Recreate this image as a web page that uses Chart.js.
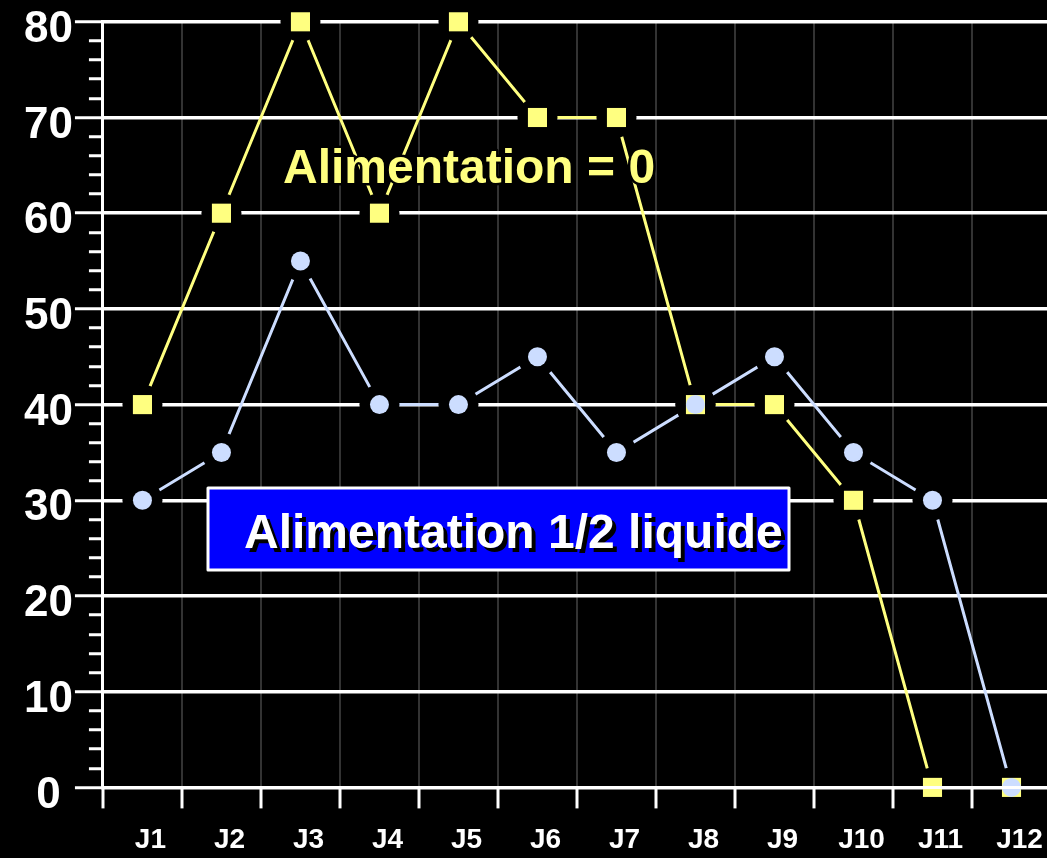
<!DOCTYPE html>
<html>
<head>
<meta charset="utf-8">
<script src="https://cdn.jsdelivr.net/npm/chart.js@4.4.0/dist/chart.umd.min.js"></script>
<style>
    html, body { margin: 0; padding: 0; background: #000; overflow: hidden; }
    canvas { display: block; }
</style>
</head>
<body>
<canvas id="chart" width="1071" height="872"></canvas>
<script>
const days = ["J1", "J2", "J3", "J4", "J5", "J6", "J7", "J8", "J9", "J10", "J11", "J12"]
const fasting = [40, 60, 80, 60, 80, 70, 70, 40, 40, 30, 0, 0]
const halfLiquid = [30, 35, 55, 40, 40, 45, 35, 40, 45, 35, 30, 0]
const yLabels = [0, 10, 20, 30, 40, 50, 60, 70, 80]

const YELLOW = "#FFFF80"
const LILAC = "#CCDDFF"
const FONT = "'Liberation Sans', Arial, sans-serif"

// text boxes drawn over the plot
const notes = {
    id : "notes",
    afterDatasetsDraw(chart) {
        const ctx = chart.ctx
        ctx.save()
        ctx.font = "bold 48px " + FONT
        ctx.textBaseline = "middle"
        ctx.textAlign = "left"

        ctx.lineJoin = "round"
        ctx.lineWidth = 5
        ctx.strokeStyle = "#000"
        ctx.strokeText("Alimentation = 0", 283, 170)
        ctx.fillStyle = YELLOW
        ctx.fillText("Alimentation = 0", 283, 170)

        ctx.fillStyle = "#0000FF"
        ctx.fillRect(208, 488, 581, 82)
        ctx.lineWidth = 3
        ctx.strokeStyle = "#FFF"
        ctx.strokeRect(208, 488, 581, 82)
        ctx.fillStyle = "#000"
        ctx.fillText("Alimentation 1/2 liquide", 248, 539)
        ctx.fillStyle = "#FFF"
        ctx.fillText("Alimentation 1/2 liquide", 244, 535)
        ctx.restore()
    },
}

const haloClip = {left : 5, right : 5, top : 5, bottom : -2}

new Chart(document.getElementById("chart").getContext("2d"), {
    type : "line",
    data : {
        labels : days,
        datasets : [{
            data : fasting,
            borderColor : YELLOW,
            borderWidth : 3,
            pointRadius : 0,
            order : 6,
        }, {
            data : halfLiquid,
            borderColor : LILAC,
            borderWidth : 3,
            pointRadius : 0,
            order : 5,
        }, {
            data : fasting,
            showLine : false,
            pointRadius : 20,
            pointBackgroundColor : "#000",
            pointBorderWidth : 0,
            clip : haloClip,
            order : 4,
        }, {
            data : halfLiquid,
            showLine : false,
            pointRadius : 20,
            pointBackgroundColor : "#000",
            pointBorderWidth : 0,
            clip : haloClip,
            order : 3,
        }, {
            data : fasting,
            showLine : false,
            pointStyle : "rect",
            pointRadius : 13.5,
            pointBackgroundColor : YELLOW,
            pointBorderWidth : 0,
            clip : false,
            order : 2,
        }, {
            data : halfLiquid,
            showLine : false,
            pointStyle : "circle",
            pointRadius : 9.5,
            pointBackgroundColor : LILAC,
            pointBorderWidth : 0,
            clip : false,
            order : 1,
        }],
    },
    options : {
        responsive : false,
        animation : false,
        events : [],
        devicePixelRatio : 1,
        layout : {
            padding : {left : 22, right : 0, top : 0, bottom : 0},
        },
        scales : {
            x : {
                offset : true,
                grid : {
                    offset : true,
                    color : "#333",
                    lineWidth : 2,
                    tickColor : "#FFF",
                    tickWidth : 3,
                    tickLength : 21,
                },
                border : {color : "#FFF", width : 3, z : 1},
                ticks : {
                    color : "#FFF",
                    font : {family : FONT, size : 28, weight : "bold"},
                    padding : 15,
                    labelOffset : 8,
                    maxRotation : 0,
                    autoSkip : false,
                },
            },
            y : {
                min : 0,
                max : 80,
                ticks : {
                    stepSize : 2,
                    autoSkip : false,
                    callback : v => yLabels.includes(v) ? v : "",
                    color : "#FFF",
                    font : {family : FONT, size : 44, weight : "bold", lineHeight : 0.9},
                    padding : 2,
                    crossAlign : "center",
                    labelOffset : 8,
                },
                grid : {
                    color : c => yLabels.includes(c.tick.value) ? "#FFF" : "rgba(0,0,0,0)",
                    lineWidth : 3.5,
                    tickLength : 28,
                    tickColor : "#FFF",
                    tickWidth : 3,
                    tickBorderDash : c => yLabels.includes(c.tick.value) ? [] : [0, 14, 20],
                },
                border : {color : "#FFF", width : 3},
            },
        },
        plugins : {
            legend : {display : false},
            tooltip : {enabled : false},
        },
    },
    plugins : [notes],
})
</script>
</body>
</html>
